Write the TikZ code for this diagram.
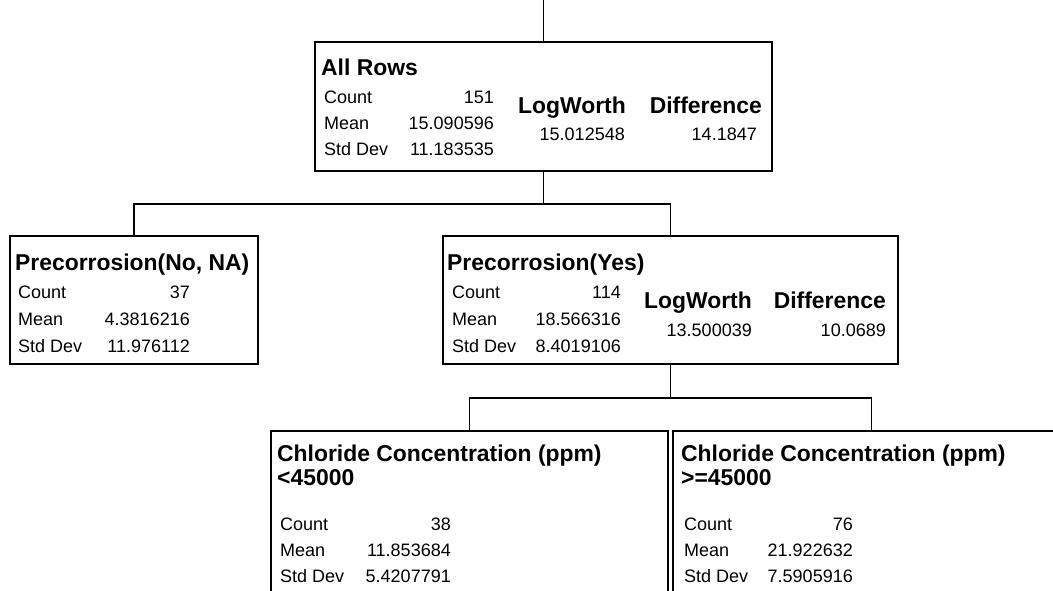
\documentclass[tikz,border=0pt]{standalone}
\usepackage{fontspec}
\setmainfont{Liberation Sans}
\begin{document}
\begin{tikzpicture}[x=1pt,y=-1pt,
  box/.style={draw=black, line width=1.8pt, rectangle, anchor=north west, inner sep=0pt},
  link/.style={draw=black, line width=1.5pt},
  head/.style={font=\fontsize{22.9}{24}\selectfont\bfseries, inner sep=0pt},
  headl/.style={head, anchor=base west},
  headr/.style={head, anchor=base east},
  lab/.style={font=\fontsize{18}{20}\selectfont, inner sep=0pt, anchor=base west},
  val/.style={font=\fontsize{18}{20}\selectfont, inner sep=0pt, anchor=base east},
]
\useasboundingbox (0,0) rectangle (1053,591);
\clip (0,0) rectangle (1053,591);

% tree boxes
\node[box, minimum width=457pt, minimum height=129pt] (root) at (314,41) {};
\node[box, minimum width=248pt, minimum height=128pt] (no) at (9,235) {};
\node[box, minimum width=455pt, minimum height=128pt] (yes) at (442,235) {};
\node[box, minimum width=397pt, minimum height=200pt] (lo) at (270,430) {};
\node[box, minimum width=397pt, minimum height=200pt] (hi) at (672,430) {};

% connectors
\coordinate (top) at (root.north |- 0,0);
\draw[link] (top) -- (root.north);
\draw[link] (root.south) -- ++(0,32) coordinate (j1);
\draw[link] (no.north) |- (j1) -| (yes.north);
\draw[link] (yes.south) -- ++(0,33) coordinate (j2);
\draw[link] (lo.north) |- (j2) -| (hi.north);

% All Rows
\node[headl] (t0) at (321,76) {All Rows};
\node[lab] (c0) at (324,104) {Count};
\node[lab] (m0) at (324,130) {Mean};
\node[lab] (s0) at (324,156) {Std Dev};
\node[val] (cv0) at (494,104) {151};
\node[val] (mv0) at (494,130) {15.090596};
\node[val] (sv0) at (494,156) {11.183535};
\node[headr] (lw0) at (626,114) {LogWorth};
\node[val] (lwv0) at (625,141) {15.012548};
\node[headr] (df0) at (762,114) {Difference};
\node[val] (dfv0) at (757,141) {14.1847};

% Precorrosion(No, NA)
\node[headl] (t1) at (15,270) {Precorrosion(No, NA)};
\node[lab] (c1) at (18,298) {Count};
\node[lab] (m1) at (18,325) {Mean};
\node[lab] (s1) at (18,352) {Std Dev};
\node[val] (cv1) at (190,298) {37};
\node[val] (mv1) at (190,325) {4.3816216};
\node[val] (sv1) at (190,352) {11.976112};

% Precorrosion(Yes)
\node[headl] (t2) at (447,270) {Precorrosion(Yes)};
\node[lab] (c2) at (452,298) {Count};
\node[lab] (m2) at (452,325) {Mean};
\node[lab] (s2) at (452,352) {Std Dev};
\node[val] (cv2) at (621,298) {114};
\node[val] (mv2) at (621,325) {18.566316};
\node[val] (sv2) at (621,352) {8.4019106};
\node[headr] (lw2) at (752,308) {LogWorth};
\node[val] (lwv2) at (752,336) {13.500039};
\node[headr] (df2) at (886,308) {Difference};
\node[val] (dfv2) at (886,336) {10.0689};

% Chloride Concentration (ppm) <45000
\node[headl] (t3) at (277,461) {Chloride Concentration (ppm)};
\node[headl] (u3) at (277,485) {<45000};
\node[lab] (c3) at (280,530) {Count};
\node[lab] (m3) at (280,556) {Mean};
\node[lab] (s3) at (280,582) {Std Dev};
\node[val] (cv3) at (451,530) {38};
\node[val] (mv3) at (451,556) {11.853684};
\node[val] (sv3) at (451,582) {5.4207791};

% Chloride Concentration (ppm) >=45000
\node[headl] (t4) at (681,461) {Chloride Concentration (ppm)};
\node[headl] (u4) at (681,485) {>=45000};
\node[lab] (c4) at (684,530) {Count};
\node[lab] (m4) at (684,556) {Mean};
\node[lab] (s4) at (684,582) {Std Dev};
\node[val] (cv4) at (853,530) {76};
\node[val] (mv4) at (853,556) {21.922632};
\node[val] (sv4) at (853,582) {7.5905916};
\end{tikzpicture}
\end{document}
